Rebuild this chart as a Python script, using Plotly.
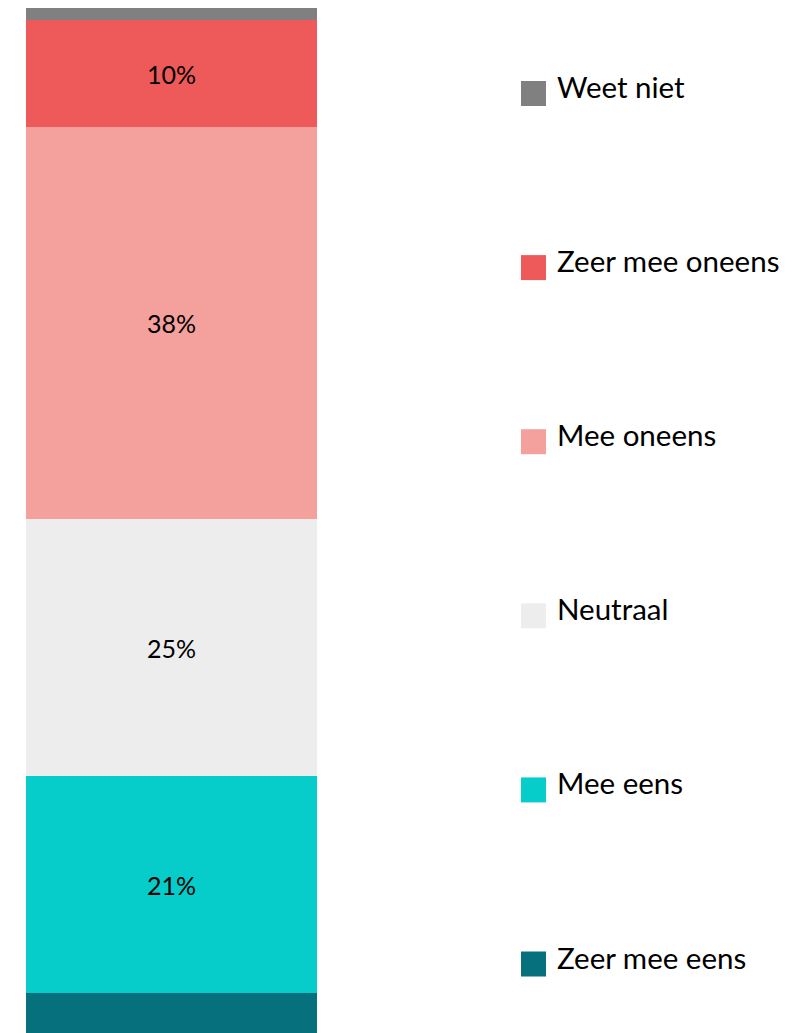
import plotly.graph_objects as go

# Data (bottom to top of the stack)
categories = ["Zeer mee eens", "Mee eens", "Neutraal", "Mee oneens", "Zeer mee oneens", "Weet niet"]
values = [4.4, 21.0, 25.0, 38.0, 10.4, 1.2]
colors = ["#06707C", "#06CDC9", "#EDEDED", "#F4A09D", "#EE5A5A", "#808080"]

FONT = "Lato"
fig = go.Figure()

for cat, val, col in zip(categories, values, colors):
    label = f"{val:.0f}%" if val >= 5 else ""
    fig.add_trace(go.Bar(
        x=[0], y=[val], width=1, name=cat,
        marker=dict(color=col, line=dict(width=0)),
        text=[label], textposition="inside", insidetextanchor="middle",
        textangle=0, textfont=dict(color="black", size=25, family=FONT),
        showlegend=False, hoverinfo="name+y",
    ))

# Custom legend drawn as a scatter on its own categorical axis
fig.add_trace(go.Scatter(
    x=[0] * len(categories), y=categories, mode="markers",
    marker=dict(symbol="square", size=25, color=colors, line=dict(width=0)),
    xaxis="x2", yaxis="y2", showlegend=False, cliponaxis=False, hoverinfo="skip",
))
for cat in categories:
    fig.add_annotation(
        x=0, y=cat, xref="x2", yref="y2", text=cat, showarrow=False,
        xanchor="left", yanchor="middle", xshift=21, yshift=7,
        font=dict(size=29.5, color="black", family=FONT),
    )

W, H = 805, 1030
fig.update_layout(
    width=W, height=H,
    margin=dict(l=0, r=0, t=0, b=0),
    barmode="stack", bargap=0,
    paper_bgcolor="white", plot_bgcolor="white",
    showlegend=False,
    xaxis=dict(domain=[18 / W, 309 / W], range=[-0.5, 0.5], visible=False, fixedrange=True),
    yaxis=dict(range=[0, 100], visible=False, fixedrange=True),
    xaxis2=dict(domain=[525.5 / W, 1], range=[0, 1], visible=False, anchor="y2"),
    yaxis2=dict(type="category", categoryorder="array", categoryarray=categories,
                range=[-0.4250, 5.4911], visible=False, anchor="x2"),
)

fig.write_html("out.html")
